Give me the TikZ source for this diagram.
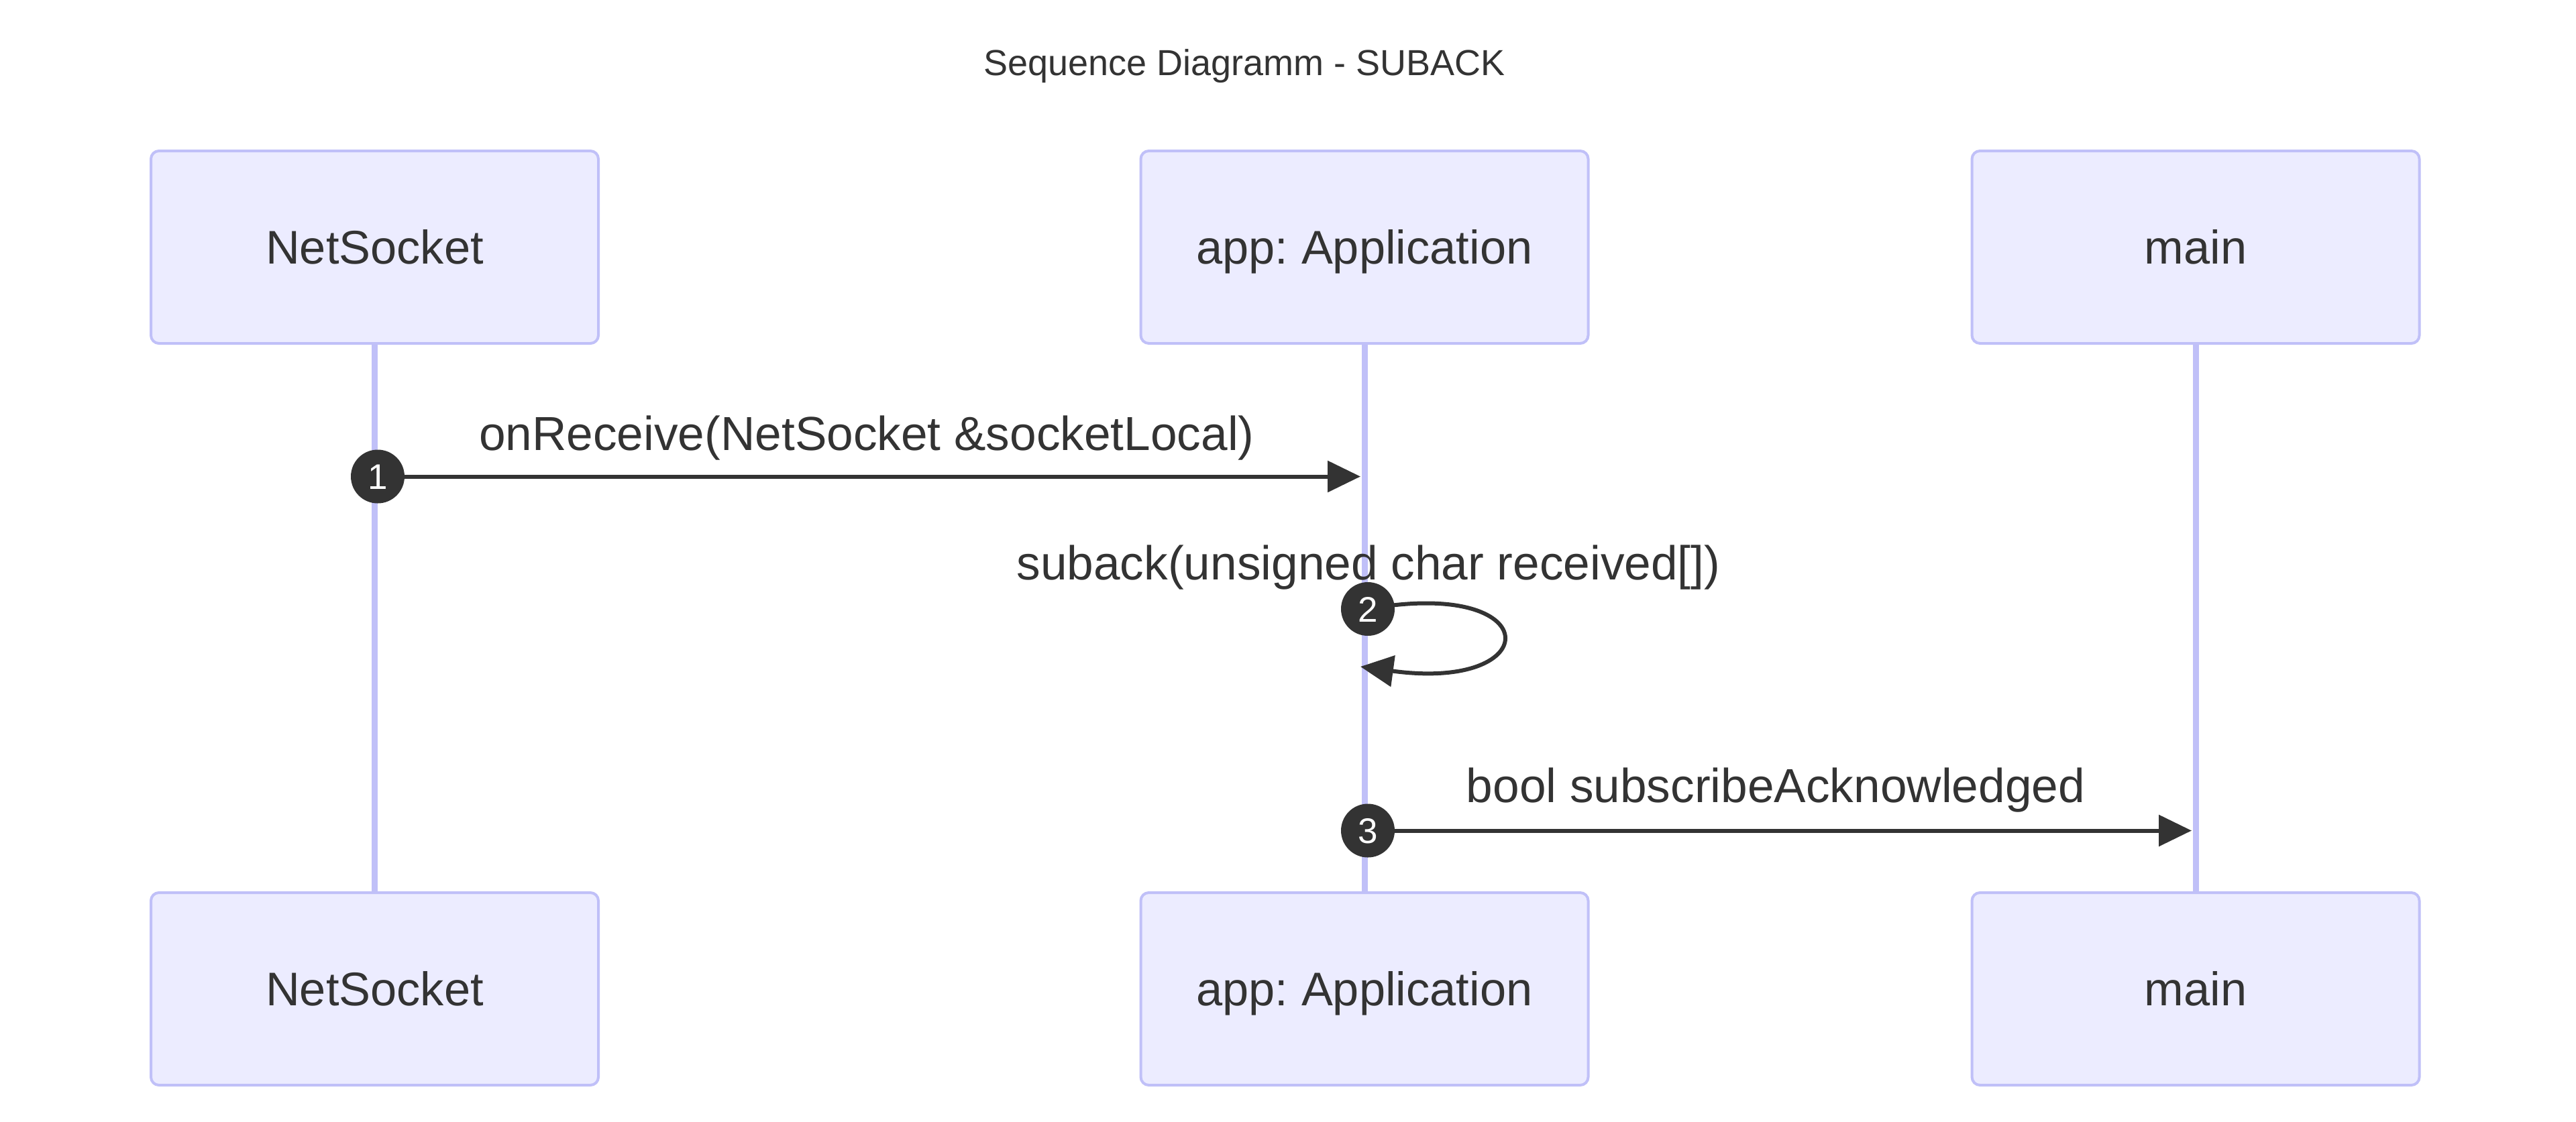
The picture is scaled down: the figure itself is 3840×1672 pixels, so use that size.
\documentclass[tikz,border=0pt]{standalone}
\usepackage{fontspec}
\setmainfont{Liberation Sans}
\usetikzlibrary{arrows.meta}
\frenchspacing
\definecolor{txt}{HTML}{333333}
\definecolor{actfill}{HTML}{ECECFF}
\definecolor{actline}{RGB}{192,192,248}
\tikzset{
  actor/.style={draw=actline, line width=1pt, fill=actfill, rounded corners=3pt,
    minimum width=166.75pt, minimum height=71.75pt, inner sep=0pt,
    text=txt, font=\fontsize{17.6pt}{21pt}\selectfont, text height=12.6pt, text depth=0pt},
  lifeline/.style={draw=actline, line width=2.25pt},
  msg/.style={draw=txt, line width=1.5pt, -{Triangle[length=12.25pt,width=11.5pt]}},
  seqnum/.style={circle, fill=txt, minimum size=20pt, inner sep=0pt, text=white,
    font=\fontsize{13.25pt}{16pt}\selectfont, text height=9.5pt, text depth=0pt},
  msglabel/.style={anchor=base, text=txt, inner sep=0pt, font=\fontsize{17.8pt}{21pt}\selectfont},
  titlestyle/.style={anchor=base, text=txt, inner sep=0pt, font=\fontsize{13.5pt}{16pt}\selectfont}
}
\begin{document}
\begin{tikzpicture}[x=0.25pt,y=-0.25pt]
\useasboundingbox[fill=white] (0,0) rectangle (3840,1672);
% title
\node[titlestyle] (title) at (1855,112) {Sequence Diagramm - SUBACK};
% actors
\node[actor] (ns) at (558.5,368.5) {NetSocket};
\node[actor] (app) at (2034,368.5) {app: Application};
\node[actor] (mn) at (3273,368.5) {main};
\node[actor] (nsb) at (558.5,1474.5) {NetSocket};
\node[actor] (appb) at (2034,1474.5) {app: Application};
\node[actor] (mnb) at (3273,1474.5) {main};
% lifelines
\draw[lifeline] (ns.south) -- (nsb.north);
\draw[lifeline] (app.south) -- (appb.north);
\draw[lifeline] (mn.south) -- (mnb.north);
% coordinates
\coordinate (c1) at (563,710.5);
\coordinate (t1) at (2028,710.5);
\coordinate (c2) at (2039,908);
\coordinate (k1) at (2306,860);
\coordinate (k2) at (2306,1032);
\coordinate (t2) at (2028,994);
\coordinate (c3) at (2039,1238.5);
\coordinate (t3) at (3267,1238.5);
% messages
\draw[msg] (c1) -- (t1);
\draw[msg] (c2) .. controls (k1) and (k2) .. (t2);
\draw[msg] (c3) -- (t3);
% sequence numbers
\node[seqnum] (n1) at (c1) {1};
\node[seqnum] (n2) at (c2) {2};
\node[seqnum] (n3) at (c3) {3};
% labels
\node[msglabel] (l1) at (1292,671) {onReceive(NetSocket \&socketLocal)};
\node[msglabel] (l2) at (2040,864) {suback(unsigned char received[])};
\node[msglabel] (l3) at (2647,1196) {bool subscribeAcknowledged};
\end{tikzpicture}
\end{document}
